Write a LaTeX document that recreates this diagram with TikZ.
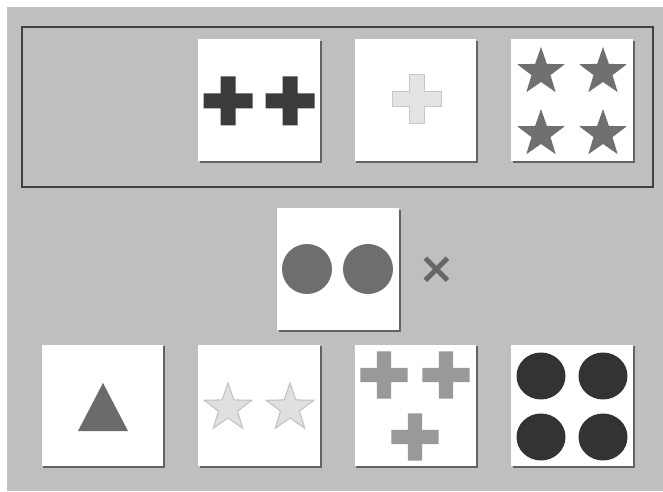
\documentclass[tikz,border=0pt]{standalone}
\usepackage{fontspec}
\newfontfamily\symfont{DejaVu Sans}
\usetikzlibrary{shadows}
\tikzset{
  panel/.style={fill=black!25, draw=none},
  frameline/.style={draw=black!75, line width=1.3pt},
  card/.style={fill=white, inner sep=0pt, minimum width=2.44cm, minimum height=2.44cm,
    drop shadow={shadow xshift=0.035cm, shadow yshift=-0.035cm, fill=black!70, opacity=0.8}},
  timesmark/.style={font=\symfont\bfseries\fontsize{25}{25}\selectfont, text=black!60, inner sep=0pt},
  plus/.pic={
    \path[pic actions] (-7.5,24.5) -- (7.5,24.5) -- (7.5,7.5) -- (24.5,7.5) -- (24.5,-7.5)
      -- (7.5,-7.5) -- (7.5,-24.5) -- (-7.5,-24.5) -- (-7.5,-7.5) -- (-24.5,-7.5)
      -- (-24.5,7.5) -- (-7.5,7.5) -- cycle;
  },
  fivestar/.pic={
    \path[pic actions] (90:25) \foreach \k in {1,...,9}{ -- ({90+36*\k}:{ifthenelse(isodd(\k),10,25)}) } -- cycle;
  },
}

\begin{document}
\begin{tikzpicture}[x=0.02cm, y=0.02cm]
\useasboundingbox (0,0) rectangle (663,491);
\fill[white] (0,0) rectangle (663,491);
\path[panel] (7,0) rectangle (663,484);
\draw[frameline] (22,304) rectangle (653,464);
% upper row
\node[card] (topa) at (259,391) {};
\node[card] (topb) at (415.5,391) {};
\node[card] (topc) at (572,391) {};
\pic[fill=black!77] at (228,390) {plus};
\pic[fill=black!77] at (290,390) {plus};
\pic[fill=black!11, draw=black!22, line width=0.6pt] at (417,392) {plus};
\pic[fill=black!56] at (541,419) {fivestar};
\pic[fill=black!56] at (603,419) {fivestar};
\pic[fill=black!56] at (541,357) {fivestar};
\pic[fill=black!56] at (603,357) {fivestar};
% question
\node[card] (mid) at (338,222) {};
\fill[black!57] (307,222) circle (0.5cm);
\fill[black!57] (368,222) circle (0.5cm);
\node[timesmark] (times) at (437,221) {×};
% answers
\node[card] (ansa) at (102.5,85.5) {};
\node[card] (ansb) at (259,85.5) {};
\node[card] (ansc) at (415.5,85.5) {};
\node[card] (ansd) at (572,85.5) {};
\fill[black!58] (103,108) -- (128,60) -- (78,60) -- cycle;
\pic[fill=black!12, draw=black!24, line width=0.6pt] at (228,83) {fivestar};
\pic[fill=black!12, draw=black!24, line width=0.6pt] at (290,83) {fivestar};
\pic[fill=black!40, scale=0.96] at (384,116) {plus};
\pic[fill=black!40, scale=0.96] at (446,116) {plus};
\pic[fill=black!40, scale=0.96] at (415,54) {plus};
\fill[black!80] (541,115) ellipse (0.49cm and 0.47cm);
\fill[black!80] (603,115) ellipse (0.49cm and 0.47cm);
\fill[black!80] (541,54) ellipse (0.49cm and 0.47cm);
\fill[black!80] (603,54) ellipse (0.49cm and 0.47cm);
\end{tikzpicture}
\end{document}
